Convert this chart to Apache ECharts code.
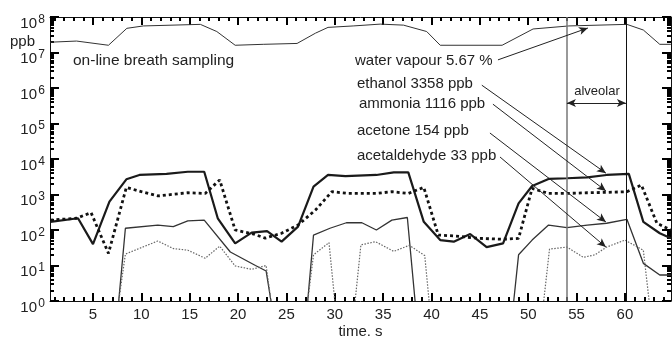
<!DOCTYPE html>
<html><head><meta charset="utf-8">
<script src="https://cdn.jsdelivr.net/npm/echarts@6/dist/echarts.min.js"></script>
<style>html,body{margin:0;padding:0;background:#fff}#c{width:672px;height:337px}</style>
</head><body><div id="c"></div>
<script>
const FONT = '"Liberation Sans", Arial, sans-serif';
const xMajorTicks = [5, 10, 15, 20, 25, 30, 35, 40, 45, 50, 55, 60];
const xMinorTicks = [1,2,3,4,5,6,7,8,9,10,11,12,13,14,15,16,17,18,19,20,21,22,23,24,25,26,27,28,29,30,31,32,33,34,35,36,37,38,39,40,41,42,43,44,45,46,47,48,49,50,51,52,53,54,55,56,57,58,59,60,61,62,63,64];
const yDecades = [1, 10, 100, 1e3, 1e4, 1e5, 1e6, 1e7, 1e8];
const yMinorMult = [2, 3, 4, 5, 6, 7, 8, 9];

const waterTime = [0.56, 3.3, 6.6, 8.5, 10.2, 16.1, 17.8, 19.7, 22.6, 26.1, 28.0, 29.3, 31.9, 34.7, 37.1, 39.5, 40.9, 47.3, 50.5, 54.2, 60.2, 61.9, 63.6, 64.75];
const waterPpb = [1.95e7, 2.1e7, 1.6e7, 4.8e7, 5.6e7, 6.2e7, 3.9e7, 1.6e7, 1.7e7, 1.8e7, 3.5e7, 5.1e7, 5.6e7, 6.3e7, 5.9e7, 3.9e7, 1.6e7, 1.6e7, 4.6e7, 5.6e7, 6.2e7, 4.3e7, 1.7e7, 1.7e7];

const ethanolTime = [0.6, 3.45, 5.0, 6.7, 8.45, 9.8, 12.6, 14.8, 16.5, 17.9, 19.7, 21.4, 23.0, 24.5, 26.2, 27.8, 29.3, 31.1, 34.3, 36.1, 37.6, 39.2, 40.9, 42.3, 44.0, 45.7, 47.4, 49.0, 50.4, 52.1, 54.0, 56.1, 58.1, 60.4, 61.9, 63.6, 64.75];
const ethanolPpb = [170, 214, 40, 627, 2680, 3550, 3800, 4380, 4380, 214, 42, 84, 93, 47, 124, 1660, 3550, 3300, 3550, 4200, 4200, 170, 52, 47, 77, 33, 42, 565, 1740, 2740, 2870, 3040, 3550, 3800, 170, 81, 59];

const ammoniaTime = [0.6, 3.3, 4.8, 6.6, 8.45, 10.0, 11.7, 14.8, 16.6, 18.1, 19.7, 21.6, 22.8, 24.5, 26.2, 28.0, 29.7, 31.4, 34.3, 35.9, 37.6, 39.2, 40.7, 42.4, 45.0, 47.3, 49.0, 50.4, 52.1, 54.0, 56.1, 58.1, 60.2, 61.7, 63.3, 64.75];
const ammoniaPpb = [190, 214, 308, 22, 1590, 1200, 910, 1120, 1070, 2570, 100, 77, 59, 81, 138, 365, 1200, 1070, 1070, 1200, 1070, 1590, 72, 68, 58, 55, 58, 1490, 1070, 1070, 1120, 1150, 1200, 1860, 155, 100];

const acetoneTime = [7.66, 8.35, 11.7, 13.3, 14.8, 16.5, 19.2, 21.8, 22.9, 23.4, null, 27.2, 27.8, 29.5, 31.2, 32.8, 34.3, 35.9, 37.5, 38.3, null, 48.5, 49.0, 50.4, 52.1, 54.0, 56.1, 58.1, 60.2, 61.9, 63.6, 64.75];
const acetonePpb = [1, 112, 138, 124, 180, 190, 24, 10, 7, 1, null, 1, 72, 112, 160, 160, 100, 190, 225, 1, null, 1, 20, 52, 138, 116, 138, 155, 200, 11.5, 5.4, 5.4];

const acetaldehydeTime = [7.66, 8.35, 11.7, 13.3, 14.8, 16.6, 18.1, 19.7, 21.4, 22.9, 23.4, null, 27.2, 27.8, 29.4, 30.0, null, 32.1, 32.7, 34.2, 36.1, 37.7, 39.3, 39.75, null, 51.6, 52.2, 54.0, 55.7, 56.9, 58.1, 60.0, 61.9, 62.5];
const acetaldehydePpb = [1, 21, 49, 30, 27, 16, 35, 9.7, 7.8, 10, 1, null, 1, 20, 44, 1, null, 1, 38, 47, 25, 37, 19, 1, null, 1, 29, 33, 17, 20, 33, 52, 27, 1];

const alveolarStart = 54.0, alveolarEnd = 60.1;

const arrowFrom = [[46.87, 6.2e6], [45.2, 1.2e6], [46.35, 3.5e5], [46.04, 5.4e4], [47.08, 1.14e4]];
const arrowTo   = [[56.17, 4.9e7], [58.03, 4000], [58.03, 1260], [58.03, 168], [58.03, 33]];
const annoTexts = ['water vapour 5.67 %', 'ethanol 3358 ppb', 'ammonia 1116 ppb', 'acetone 154 ppb', 'acetaldehyde 33 ppb'];
const annoX = [355, 357, 359, 357, 357];
const annoY = [61, 84, 104, 131, 156];

function pairs(ts, vs) {
  return ts.map((t, i) => (t === null || vs[i] === null) ? [NaN, '-'] : [t, vs[i]]);
}
const yMinor = [];
yDecades.slice(0, -1).forEach(d => yMinorMult.forEach(m => yMinor.push(d * m)));

const chart = echarts.init(document.getElementById('c'), null, {renderer: 'canvas'});
const X_MIN = 0.555, X_MAX = 64.76;
const lineCol = '#111';
const tickCol = 'black';

function xAx(pos, ticks, len, showLabel, showLine) {
  return {
    type: 'value', position: pos, min: X_MIN, max: X_MAX,
    axisLine: {show: showLine, lineStyle: {color: lineCol, width: 1}},
    axisTick: {show: true, inside: true, length: len, customValues: ticks, lineStyle: {color: tickCol, width: 2}},
    axisLabel: showLabel ? {show: true, customValues: xMajorTicks, margin: 6, fontSize: 15, color: '#222', fontFamily: FONT} : {show: false},
    splitLine: {show: false},
    name: showLabel ? 'time. s' : '',
    nameLocation: 'middle', nameGap: 23, nameMoveOverlap: false,
    nameTextStyle: {fontSize: 15, color: '#222', fontFamily: FONT}
  };
}
function yAx(pos, ticks, len, labelOpt, showLine) {
  return {
    type: 'log', logBase: 10, position: pos, min: 1, max: 1e8,
    axisLine: {show: showLine, lineStyle: {color: lineCol, width: 1}},
    axisTick: {show: true, inside: true, length: len, customValues: ticks, lineStyle: {color: tickCol, width: 2}},
    axisLabel: labelOpt || {show: false},
    splitLine: {show: false}
  };
}

const arrowLines = arrowFrom.map((f, i) => [
  {coord: f, symbol: 'none'},
  {coord: arrowTo[i], symbol: 'arrow', symbolSize: [6, 9]}
]);
arrowLines.push([
  {coord: [alveolarStart, 3.8e5], symbol: 'arrow', symbolSize: [6, 9]},
  {coord: [alveolarEnd, 3.8e5], symbol: 'arrow', symbolSize: [6, 9]}
]);

const option = {
  animation: false,
  backgroundColor: '#fff',
  grid: {left: 50, right: 1, top: 17, bottom: 36, containLabel: false, outerBoundsMode: 'none'},
  xAxis: [
    xAx('bottom', xMajorTicks, 8, true, true),
    xAx('bottom', xMinorTicks, 4, false, false),
    xAx('top', xMajorTicks, 8, false, true),
    xAx('top', xMinorTicks, 4, false, false)
  ],
  yAxis: [
    yAx('left', yDecades, 9,
      {show: true, customValues: yDecades, margin: 13, fontSize: 15, fontFamily: FONT, color: '#222',
       verticalAlign: 'top', lineHeight: 13, formatter: () => '10'}, true),
    yAx('left', yMinor, 4,
      {show: true, customValues: yDecades, margin: 5, fontSize: 12, fontFamily: FONT, color: '#222',
       verticalAlign: 'top', lineHeight: 5, formatter: v => String(Math.round(Math.log10(v)))}, false),
    yAx('right', yDecades, 9, null, true),
    yAx('right', yMinor, 4, null, false)
  ],
  series: [
    {type: 'line', name: 'water vapour', data: pairs(waterTime, waterPpb), symbol: 'none',
      lineStyle: {color: '#333', width: 1}},
    {type: 'line', name: 'ethanol', data: pairs(ethanolTime, ethanolPpb), symbol: 'none',
      lineStyle: {color: '#1a1a1a', width: 2.2},
      markLine: {silent: true, symbol: 'none', label: {show: false},
        lineStyle: {color: '#222', width: 1, type: 'solid'},
        data: [
          {xAxis: alveolarStart, lineStyle: {color: '#777', width: 1.5}},
          {xAxis: alveolarEnd, lineStyle: {color: '#111', width: 1}}
        ].concat(arrowLines)}},
    {type: 'line', name: 'ammonia', data: pairs(ammoniaTime, ammoniaPpb), symbol: 'none',
      lineStyle: {color: '#111', width: 2.8, type: [3, 3], cap: 'butt'}},
    {type: 'line', name: 'acetone', data: pairs(acetoneTime, acetonePpb), symbol: 'none',
      connectNulls: false, lineStyle: {color: '#333', width: 1.3}},
    {type: 'line', name: 'acetaldehyde', data: pairs(acetaldehydeTime, acetaldehydePpb), symbol: 'none',
      connectNulls: false, lineStyle: {color: '#666', width: 1.2, type: [1.5, 1.5]}}
  ],
  graphic: [
    {type: 'text', left: 10, top: 34, style: {text: 'ppb', font: '15px ' + FONT, fill: '#222'}},
    {type: 'text', left: 73, top: 53, style: {text: 'on-line breath sampling', font: '15.5px ' + FONT, fill: '#222'}},
    {type: 'text', x: 597, y: 91, style: {text: 'alveolar', font: '13px ' + FONT, fill: '#222', align: 'center', verticalAlign: 'middle'}}
  ].concat(annoTexts.map((t, i) => ({
    type: 'text', x: annoX[i], y: annoY[i],
    style: {text: t, font: '15px ' + FONT, fill: '#222', verticalAlign: 'middle'}
  })))
};
chart.setOption(option);
</script></body></html>
